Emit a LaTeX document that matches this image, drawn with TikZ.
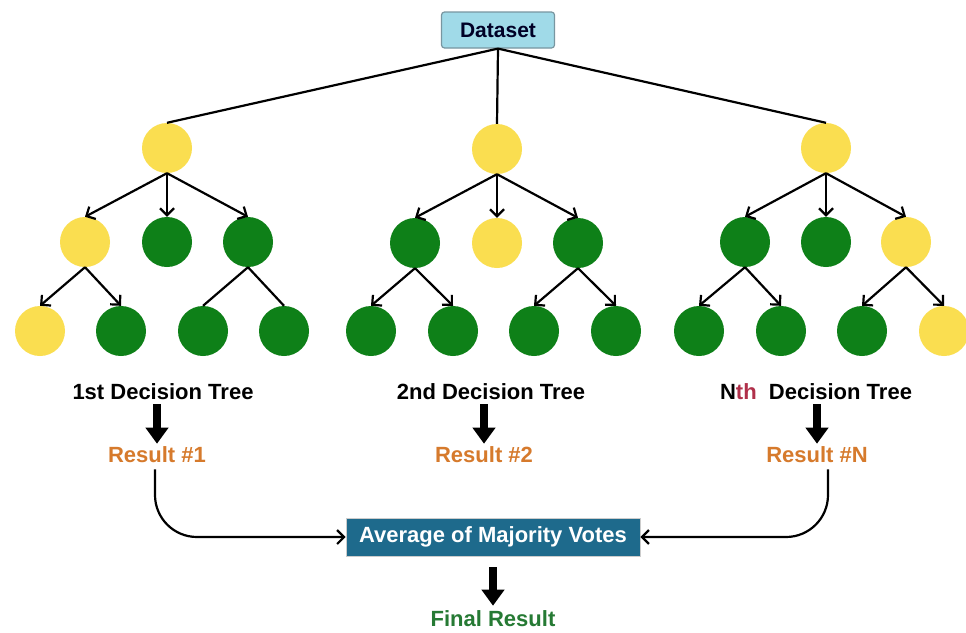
\documentclass[tikz,border=0pt]{standalone}
\usepackage{fontspec}
\setmainfont{Liberation Sans}
\usetikzlibrary{arrows.meta}
\definecolor{leafyellow}{RGB}{250,222,80}
\definecolor{leafgreen}{RGB}{14,128,24}
\definecolor{dsfill}{RGB}{160,218,232}
\definecolor{dsdraw}{RGB}{120,150,160}
\definecolor{avgfill}{RGB}{30,106,140}
\definecolor{resorange}{RGB}{214,122,44}
\definecolor{thred}{RGB}{176,48,74}
\definecolor{finalgreen}{RGB}{38,122,52}
\begin{document}
\begin{tikzpicture}[x=1pt,y=-1pt,
  yel/.style={circle,fill=leafyellow,minimum size=50pt,inner sep=0pt},
  grn/.style={circle,fill=leafgreen,minimum size=50pt,inner sep=0pt},
  arr/.style={line width=2.2pt,-{Straight Barb[length=7pt,width=14pt]}},
  plain/.style={line width=2.2pt},
  lbl/.style={font=\fontsize{22}{26}\selectfont\bfseries,inner sep=2pt},
  bigarr/.style={line width=8pt,-{Triangle[length=16pt,width=22pt]}},
  curv/.style={line width=2.2pt,rounded corners=42pt,-{Straight Barb[length=7pt,width=14pt]}}
]
\useasboundingbox (0,0) rectangle (966,632);
\fill[white] (0,0) rectangle (966,632);

% Dataset
\node[draw=dsdraw,fill=dsfill,line width=1.2pt,rounded corners=3pt,minimum width=113pt,minimum height=36pt,
  font=\fontsize{21}{25}\selectfont\bfseries,text={black!85!blue}] (ds) at (498,30) {Dataset};

% Tree 1
\node[yel] (r1) at (167,148) {};
\node[yel] (a1) at (85,242) {};
\node[grn] (b1) at (167,242) {};
\node[grn] (c1) at (248,242) {};
\node[yel] (d1) at (40,331) {};
\node[grn] (e1) at (121,331) {};
\node[grn] (f1) at (203,331) {};
\node[grn] (g1) at (284,331) {};
% Tree 2
\node[yel] (r2) at (497,149) {};
\node[grn] (a2) at (415,243) {};
\node[yel] (b2) at (497,243) {};
\node[grn] (c2) at (578,243) {};
\node[grn] (d2) at (371,331) {};
\node[grn] (e2) at (453,331) {};
\node[grn] (f2) at (534,331) {};
\node[grn] (g2) at (616,331) {};
% Tree 3
\node[yel] (r3) at (826,148) {};
\node[grn] (a3) at (745,242) {};
\node[grn] (b3) at (826,242) {};
\node[yel] (c3) at (906,242) {};
\node[grn] (d3) at (699,331) {};
\node[grn] (e3) at (781,331) {};
\node[grn] (f3) at (862,331) {};
\node[yel] (g3) at (944,331) {};

% Dataset lines
\draw[plain] (ds.south) -- (r1.north);
\draw[plain] (ds.south) -- (r2.north);
\draw[plain] (ds.south) -- (r3.north);

% Tree 1 edges
\draw[arr] (r1.south) -- (a1.north);
\draw[arr] (r1.south) -- (b1.north);
\draw[arr] (r1.south) -- (c1.north);
\draw[arr] (a1.south) -- (d1.north);
\draw[arr] (a1.south) -- (e1.north);
\draw[plain] (c1.south) -- (f1.north);
\draw[plain] (c1.south) -- (g1.north);
% Tree 2 edges
\draw[arr] (r2.south) -- (a2.north);
\draw[arr] (r2.south) -- (b2.north);
\draw[arr] (r2.south) -- (c2.north);
\draw[arr] (a2.south) -- (d2.north);
\draw[arr] (a2.south) -- (e2.north);
\draw[arr] (c2.south) -- (f2.north);
\draw[arr] (c2.south) -- (g2.north);
% Tree 3 edges
\draw[arr] (r3.south) -- (a3.north);
\draw[arr] (r3.south) -- (b3.north);
\draw[arr] (r3.south) -- (c3.north);
\draw[arr] (a3.south) -- (d3.north);
\draw[arr] (a3.south) -- (e3.north);
\draw[arr] (c3.south) -- (f3.north);
\draw[arr] (c3.south) -- (g3.north);

% Labels
\node[lbl] (l1) at (163,392) {1st Decision Tree};
\node[lbl] (l2) at (491,392) {2nd Decision Tree};
\node[lbl] (l3) at (816,392) {N\textcolor{thred}{th}\ \ Decision Tree};

\node[lbl,text=resorange] (res1) at (157,455) {Result \#1};
\node[lbl,text=resorange] (res2) at (484,455) {Result \#2};
\node[lbl,text=resorange] (res3) at (817,455) {Result \#N};

\draw[bigarr,shorten >=1pt,shorten <=2pt] (l1.south -| res1.north) -- (res1.north);
\draw[bigarr,shorten >=1pt,shorten <=2pt] (l2.south -| res2.north) -- (res2.north);
\draw[bigarr,shorten >=1pt,shorten <=2pt] (l3.south -| res3.north) -- (res3.north);

% Average box
\node[fill=avgfill,draw=gray!40,line width=0.8pt,minimum width=294pt,minimum height=38pt,
  font=\fontsize{22}{26}\selectfont\bfseries,text=white] (avg) at (493,537) {Average of Majority Votes};

\draw[curv,shorten <=4pt] ([xshift=-2pt]res1.south) |- (avg.west);
\draw[curv,shorten <=4pt] ([xshift=11pt]res3.south) |- (avg.east);

\node[lbl,text=finalgreen] (fin) at (493,619) {Final Result};
\draw[bigarr,shorten >=3pt,shorten <=11pt] (avg.south -| fin.north) -- (fin.north);
\end{tikzpicture}
\end{document}
